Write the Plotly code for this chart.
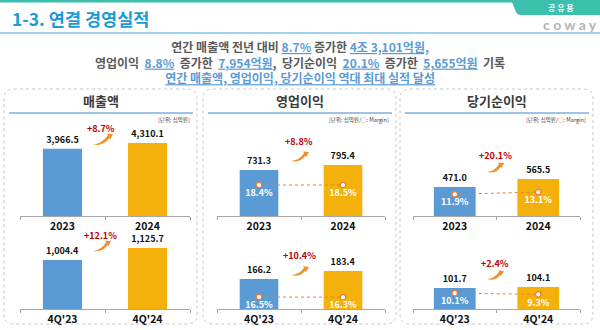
import math
import plotly.graph_objects as go

W, H = 600, 330
FONT = "Noto Sans CJK KR"


def px(x):
    return x / W


def py(y):
    return 1 - y / H


# ---- data (단위: 십억원, margin %) ----
periods_year = ["2023", "2024"]
periods_quarter = ["4Q'23", "4Q'24"]
revenue_year = [3966.5, 4310.1]
revenue_quarter = [1004.4, 1125.7]
op_profit_year = [731.3, 795.4]
op_profit_quarter = [166.2, 183.4]
net_income_year = [471.0, 565.5]
net_income_quarter = [101.7, 104.1]
op_margin_year = [18.4, 18.5]
op_margin_quarter = [16.5, 16.3]
net_margin_year = [11.9, 13.1]
net_margin_quarter = [10.1, 9.3]
growth_labels = ["+8.7%", "+12.1%", "+8.8%", "+10.4%", "+20.1%", "+2.4%"]
panel_titles = ["매출액", "영업이익", "당기순이익"]
unit_labels = ["[단위: 십억원]",
               "[단위: 십억원/<span style='color:#ed7d31'>○</span>: Margin]",
               "[단위: 십억원/<span style='color:#ed7d31'>○</span>: Margin]"]

BLUE_BAR = "#5b9bd5"
GOLD_BAR = "#f4b10b"
ORANGE = "#ed7d31"
RED = "#c00000"
HL_BLUE = "#5b9bd5"

# panel boxes (left, right) and chart x-domains
panels = [(4, 197), (203, 396), (400, 593)]
chart_x = [(20, 190), (217, 385), (413, 580)]
row_y = [(130, 216), (232, 309)]  # (top, baseline) in px

subplots = [
    # panel, row, categories, values, y-range, bar width
    (0, 0, periods_year, revenue_year, [0, 5078], 0.46),
    (0, 1, periods_quarter, revenue_quarter, [510, 1288], 0.46),
    (1, 0, periods_year, op_profit_year, [142, 1244], 0.46),
    (1, 1, periods_quarter, op_profit_quarter, [101.7, 267.3], 0.46),
    (2, 0, periods_year, net_income_year, [128, 1144], 0.5),
    (2, 1, periods_quarter, net_income_quarter, [61, 211], 0.5),
]

# margin lines: subplot index, values, y-range
margins = [
    (3, op_margin_year, [0, 51.2]),
    (4, op_margin_quarter, [0, 106]),
    (5, net_margin_year, [0, 47]),
    (6, net_margin_quarter, [0, 49]),
]

# growth label centre and arrow tail/head per subplot (px)
growth_pos = [
    ((101, 128), (93, 145), (113, 134)),
    ((100, 235), (93, 251), (111, 241)),
    ((299, 141), (291, 161), (309, 152)),
    ((299, 255), (291, 275), (309, 267)),
    ((495, 156), (487, 172), (504, 163)),
    ((495, 263), (487, 279), (504, 271)),
]

fig = go.Figure()
layout = dict(
    width=W, height=H, margin=dict(l=0, r=0, t=0, b=0),
    paper_bgcolor="white", plot_bgcolor="rgba(0,0,0,0)",
    showlegend=False, font=dict(family=FONT),
)

for i, (pn, row, cats, vals, yr, bw) in enumerate(subplots, start=1):
    xs = "" if i == 1 else str(i)
    x0, x1 = chart_x[pn]
    top, base = row_y[row]
    fig.add_trace(go.Bar(
        x=cats, y=vals, width=bw,
        marker=dict(color=[BLUE_BAR, GOLD_BAR], line=dict(width=0)),
        texttemplate="%{y:,.1f}", textposition="outside",
        textfont=dict(size=9, color="#111111", family=FONT, weight="bold"),
        cliponaxis=False, constraintext="none",
        xaxis="x" + xs, yaxis="y" + xs, hoverinfo="skip",
    ))
    layout["xaxis" + xs] = dict(
        domain=[px(x0), px(x1)], anchor="y" + xs, type="category",
        showline=True, linecolor="#a6a6a6", linewidth=1,
        ticks="outside", tickson="boundaries", ticklen=3, tickcolor="#a6a6a6",
        showgrid=False, zeroline=False,
        tickfont=dict(size=10.5, color="#111111", family=FONT, weight="bold"),
        fixedrange=True,
    )
    layout["yaxis" + xs] = dict(
        domain=[py(base), py(top)], anchor="x" + xs, range=yr,
        visible=False, fixedrange=True,
    )

for k, (sp, vals, yr) in enumerate(margins, start=7):
    cats = subplots[sp - 1][2]
    fig.add_trace(go.Scatter(
        x=cats, y=vals, mode="lines+markers+text",
        line=dict(color=ORANGE, width=1, dash="dot"),
        marker=dict(size=5.5, color="white", line=dict(color=ORANGE, width=1.3)),
        texttemplate="%{y:.1f}%", textposition="bottom center",
        textfont=dict(size=9, color="white", family=FONT, weight="bold"),
        cliponaxis=False, xaxis="x" + str(sp), yaxis="y" + str(k),
        hoverinfo="skip",
    ))
    layout["yaxis" + str(k)] = dict(
        overlaying="y" + str(sp), anchor="x" + str(sp), range=yr,
        visible=False, fixedrange=True,
    )

shapes = []
annotations = []


def P(x, y):
    return f"{px(x):.5f},{py(y):.5f}"


def rounded_rect(x0, y0, x1, y1, r):
    return (f"M {P(x0 + r, y0)} L {P(x1 - r, y0)} Q {P(x1, y0)} {P(x1, y0 + r)} "
            f"L {P(x1, y1 - r)} Q {P(x1, y1)} {P(x1 - r, y1)} "
            f"L {P(x0 + r, y1)} Q {P(x0, y1)} {P(x0, y1 - r)} "
            f"L {P(x0, y0 + r)} Q {P(x0, y0)} {P(x0 + r, y0)} Z")


def swoosh(t, h):
    """Curved, tapering arrow from tail t to head h (px)."""
    tx, ty = t
    hx, hy = h
    dx, dy = hx - tx, hy - ty
    L = math.hypot(dx, dy)
    ux, uy = dx / L, dy / L
    nx, ny = -uy, ux
    nkx, nky = hx - ux * 5.0, hy - uy * 5.0
    cx, cy = (tx + nkx) / 2, (ty + nky) / 2
    return (f"M {P(tx, ty)} "
            f"Q {P(cx + nx * 6.0, cy + ny * 6.0)} {P(nkx + nx * 1.8, nky + ny * 1.8)} "
            f"L {P(nkx + nx * 3.4, nky + ny * 3.4)} L {P(hx, hy)} "
            f"L {P(nkx - nx * 3.0, nky - ny * 3.0)} L {P(nkx - nx * 1.2, nky - ny * 1.2)} "
            f"Q {P(cx + nx * 3.0, cy + ny * 3.0)} {P(tx, ty)} Z")


# header
shapes.append(dict(type="rect", xref="paper", yref="paper", x0=0, x1=1,
                   y0=py(2.5), y1=py(0), fillcolor="#3dbfae", line=dict(width=0)))
shapes.append(dict(type="path", xref="paper", yref="paper",
                   path=f"M {P(510, 0)} L {P(600, 0)} L {P(600, 15)} L {P(521, 15)} "
                        f"Q {P(517, 15)} {P(515.5, 11)} L {P(512, 2)} Z",
                   fillcolor="#3dbfae", line=dict(width=0)))
shapes.append(dict(type="line", xref="paper", yref="paper", x0=0, x1=1,
                   y0=py(33), y1=py(33), line=dict(color="#7fc6ea", width=1.5)))

annotations.append(dict(x=px(10), y=py(18.5), xref="paper", yref="paper",
                        xanchor="left", yanchor="middle", showarrow=False,
                        text="1-3. 연결 경영실적",
                        font=dict(size=17.5, color="#1a9ad6", family=FONT, weight="bold")))
annotations.append(dict(x=px(561), y=py(7.5), xref="paper", yref="paper",
                        xanchor="center", yanchor="middle", showarrow=False,
                        text="공 유 용",
                        font=dict(size=8, color="white", family=FONT, weight="bold")))
annotations.append(dict(x=px(599), y=py(24), xref="paper", yref="paper",
                        xanchor="right", yanchor="middle", showarrow=False,
                        text="c o w a y",
                        font=dict(size=14, color="#b4b4b4", family="Lato", weight="bold")))


def hl(s):
    return f"<span style='color:{HL_BLUE}'><u>{s}</u></span>"


SP = "\u00a0\u00a0"
headline = [
    f"연간 매출액 전년 대비 {hl('8.7%')} 증가한 {hl('4조 3,101억원,')}",
    SP.join(["영업이익", hl('8.8%'), "증가한", hl('7,954억원') + ",", "당기순이익",
             hl('20.1%'), "증가한", hl('5,655억원'), "기록"]),
    hl("연간 매출액, 영업이익, 당기순이익 역대 최대 실적 달성"),
]
annotations.append(dict(x=0.5, y=py(62), xref="paper", yref="paper",
                        xanchor="center", yanchor="middle", showarrow=False,
                        text="<br>".join(headline),
                        font=dict(size=12, color="#595959", family=FONT, weight="bold")))

# panels
for (l, r), title, unit in zip(panels, panel_titles, unit_labels):
    shapes.append(dict(type="path", xref="paper", yref="paper", layer="below",
                       path=rounded_rect(l, 89, r, 324, 10),
                       fillcolor="white", line=dict(color="#c8c8c8", width=1, dash="dot")))
    shapes.append(dict(type="line", xref="paper", yref="paper",
                       x0=px(l + 5), x1=px(r - 4), y0=py(113), y1=py(113),
                       line=dict(color="#9dc3e6", width=2)))
    annotations.append(dict(x=px((l + r) / 2), y=py(101), xref="paper", yref="paper",
                            xanchor="center", yanchor="middle", showarrow=False,
                            text=title,
                            font=dict(size=13, color="#3a3a3a", family=FONT, weight="bold")))
    annotations.append(dict(x=px(r - 5), y=py(120), xref="paper", yref="paper",
                            xanchor="right", yanchor="middle", showarrow=False,
                            text=unit,
                            font=dict(size=5.5, color="#404040", family=FONT)))

# growth labels and arrows
for label, (lab, tail, head) in zip(growth_labels, growth_pos):
    annotations.append(dict(x=px(lab[0]), y=py(lab[1]), xref="paper", yref="paper",
                            xanchor="center", yanchor="middle", showarrow=False,
                            text=label,
                            font=dict(size=9, color=RED, family=FONT, weight="bold")))
    shapes.append(dict(type="path", xref="paper", yref="paper",
                       path=swoosh(tail, head), fillcolor="#f0902c",
                       line=dict(width=0)))

layout["shapes"] = shapes
layout["annotations"] = annotations
fig.update_layout(**layout)
fig.write_html("out.html")
